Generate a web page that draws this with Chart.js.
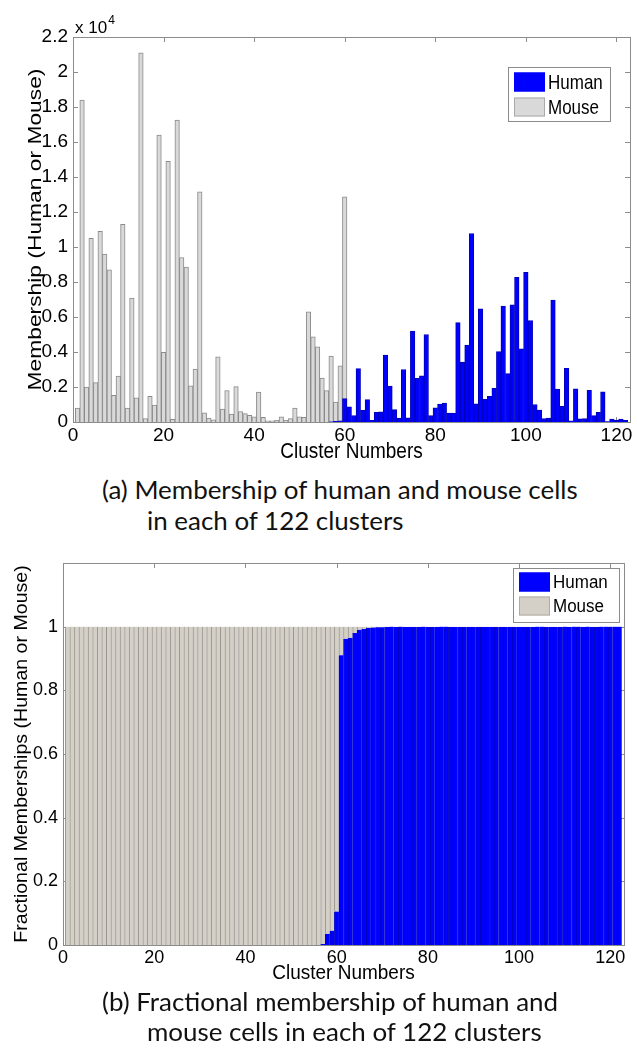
<!DOCTYPE html>
<html><head><meta charset="utf-8">
<script src="https://cdn.jsdelivr.net/npm/chart.js@4"></script>
<style>
html,body{margin:0;padding:0;background:#fff}
body{width:637px;height:1051px;overflow:hidden;position:relative}
canvas{position:absolute;left:0}
#ca{top:0}
#cb{top:540px}
.cap{position:absolute;font-family:Lato,'DejaVu Sans',sans-serif;color:#111;white-space:nowrap;line-height:1}
</style></head><body>
<canvas id="ca" width="637" height="470"></canvas>
<canvas id="cb" width="637" height="450"></canvas>
<div class="cap" id="c1" style="left:102px">(a) Membership of human and mouse cells</div>
<div class="cap" id="c2" style="left:147px">in each of 122 clusters</div>
<div class="cap" id="c3" style="left:102px">(b) Fractional membership of human and</div>
<div class="cap" id="c4" style="left:147px">mouse cells in each of 122 clusters</div>
<script>
// ---------- DATA ----------
const clusters = Array.from({length:122},(_,i)=>i+1);
const xTickValues = [0,20,40,60,80,100,120];

// (a) membership counts per cluster (1..122)
const mouseCounts = [
  800,18400,2000,10500,2250,10900,9600,8700,1520,2620,
  11300,800,7080,1380,21100,200,1460,960,16400,3980,
  14900,150,17250,9400,8850,2060,3020,13150,520,220,
  120,3720,740,1800,450,2020,600,480,380,300,
  1710,260,60,60,100,300,100,190,800,290,
  270,6290,4870,4290,2510,1790,3760,1140,3210,12870,
  85,15,110,14,13,1,2,2,7,4,
  1,0,3,0,5,2,3,5,0,1,
  1,1,0,0,6,3,4,11,1,6,
  1,1,2,4,7,3,7,8,4,9,
  6,1,1,0,0,7,2,1,3,0,
  2,0,0,2,0,1,2,0,0,0,
  0,0];
const humanCounts = [
  0,0,0,0,0,0,0,0,0,0,
  0,0,0,0,0,0,0,0,0,0,
  0,0,0,0,0,0,0,0,0,0,
  0,0,0,0,0,0,0,0,0,0,
  0,0,0,0,0,0,0,0,0,0,
  0,0,0,0,0,0,10,40,60,1340,
  870,370,3050,670,1280,100,550,580,3830,2050,
  710,230,3000,240,5190,2490,2640,5000,360,810,
  1030,1080,510,510,5680,3430,4400,10770,1040,6470,
  1300,1470,1920,4020,6620,2760,6690,8260,4180,8550,
  5800,1000,680,200,230,6970,1880,890,3070,70,
  1900,180,190,1810,360,550,1720,20,170,110,
  160,100];
const yTickValuesA = [0,2000,4000,6000,8000,10000,12000,14000,16000,18000,20000,22000];
const yTickLabelsA = ['0','0.2','0.4','0.6','0.8','1','1.2','1.4','1.6','1.8','2','2.2'];

// (b) fractional membership per cluster (1..122)
const humanFrac = [
  0,0,0,0,0,0,0,0,0,0,
  0,0,0,0,0,0,0,0,0,0,
  0,0,0,0,0,0,0,0,0,0,
  0,0,0,0,0,0,0,0,0,0,
  0,0,0,0,0,0,0,0,0,0,
  0,0,0,0,0,0,0.003,0.035,0.045,0.105,
  0.91,0.962,0.965,0.98,0.99,0.993,0.996,0.997,0.998,0.998,
  0.999,1,0.999,1,0.999,0.999,0.999,0.999,1,0.999,
  0.999,0.999,1,1,0.999,0.999,0.999,0.999,0.999,0.999,
  0.999,0.999,0.999,0.999,0.999,0.999,0.999,0.999,0.999,0.999,
  0.999,0.999,0.999,1,1,0.999,0.999,0.999,0.999,1,
  0.999,1,1,0.999,1,0.999,0.999,1,1,1,
  1,1];
const mouseFrac = [
  1,1,1,1,1,1,1,1,1,1,
  1,1,1,1,1,1,1,1,1,1,
  1,1,1,1,1,1,1,1,1,1,
  1,1,1,1,1,1,1,1,1,1,
  1,1,1,1,1,1,1,1,1,1,
  1,1,1,1,1,1,0.997,0.965,0.955,0.895,
  0.09,0.038,0.035,0.02,0.01,0.007,0.004,0.003,0.002,0.002,
  0.001,0,0.001,0,0.001,0.001,0.001,0.001,0,0.001,
  0.001,0.001,0,0,0.001,0.001,0.001,0.001,0.001,0.001,
  0.001,0.001,0.001,0.001,0.001,0.001,0.001,0.001,0.001,0.001,
  0.001,0.001,0.001,0,0,0.001,0.001,0.001,0.001,0,
  0.001,0,0,0.001,0,0.001,0.001,0,0,0,
  0,0];
const yTickValuesB = [0,0.2,0.4,0.6,0.8,1];
const yTickLabelsB = ['0','0.2','0.4','0.6','0.8','1'];

// ---------- HELPERS ----------
const pts = arr => clusters.map((c,i)=>({x:c,y:arr[i]}));
const FONT = "'Liberation Sans', Arial, Helvetica, sans-serif";

const deco = {
  id:'deco',
  beforeDatasetsDraw(chart, args, o){
    const {ctx, chartArea:a, scales:{x,y}} = chart;
    ctx.save();
    ctx.strokeStyle = '#8c8c8c'; ctx.lineWidth = 1;
    const L=5;
    ctx.beginPath();
    x.ticks.forEach(t=>{const px=Math.round(x.getPixelForValue(t.value))+0.5;
      ctx.moveTo(px,a.bottom); ctx.lineTo(px,a.bottom-L); ctx.moveTo(px,a.top); ctx.lineTo(px,a.top+L);});
    y.ticks.forEach(t=>{const py=Math.round(y.getPixelForValue(t.value))+0.5;
      ctx.moveTo(a.left,py); ctx.lineTo(a.left+L,py); ctx.moveTo(a.right,py); ctx.lineTo(a.right-L,py);});
    ctx.stroke();
    ctx.restore();
  },
  afterDatasetsDraw(chart, args, o){
    const {ctx, chartArea:a} = chart;
    ctx.save();
    ctx.strokeStyle = '#8c8c8c'; ctx.lineWidth = 1;
    ctx.strokeRect(Math.round(a.left)+0.5, Math.round(a.top)+0.5, Math.round(a.right)-Math.round(a.left), Math.round(a.bottom)-Math.round(a.top));
    // legend
    const lg = o.legend;
    ctx.fillStyle='#fff';
    ctx.fillRect(lg.x, lg.y, lg.w, lg.h);
    ctx.strokeStyle='#8c8c8c';
    ctx.strokeRect(lg.x+0.5, lg.y+0.5, lg.w, lg.h);
    ctx.font = lg.font + 'px ' + FONT;
    ctx.textBaseline='middle'; ctx.textAlign='left';
    chart.data.datasets.forEach((ds,i)=>{
      const ry = lg.y + lg.rows[i];
      ctx.fillStyle = ds.backgroundColor;
      ctx.fillRect(lg.x+6, ry-9.5, 31, 19);
      ctx.strokeStyle = ds.legendBorder;
      ctx.strokeRect(lg.x+6.5, ry-9, 30, 18);
      ctx.fillStyle='#000';
      ctx.save();
      ctx.translate(lg.x+40, ry+1);
      ctx.scale(1, o.sy);
      ctx.fillText(ds.label, 0, 0);
      ctx.restore();
    });
    // axis titles
    ctx.fillStyle='#000';
    ctx.font = o.titleFont + 'px ' + FONT;
    ctx.textAlign='center'; ctx.textBaseline='middle';
    ctx.save();
    ctx.translate((a.left+a.right)/2, o.xTitleY);
    ctx.scale(1, o.sy);
    ctx.fillText(o.xTitle, 0, 0);
    ctx.restore();
    ctx.save();
    ctx.translate(o.yTitleX, (a.top+a.bottom)/2);
    ctx.rotate(-Math.PI/2);
    ctx.scale(o.sy, 1);
    ctx.fillText(o.yTitle, 0, 0);
    ctx.restore();
    if (o.expo){
      ctx.font = '17px ' + FONT; ctx.textAlign='left'; ctx.textBaseline='alphabetic';
      ctx.fillText('x 10', a.left+2, a.top-4);
      const w = ctx.measureText('x 10').width;
      ctx.font = '12px ' + FONT;
      ctx.fillText('4', a.left+3+w, a.top-13);
    }
    ctx.restore();
  }
};

function baseScales(yTicks, yLabels, yMax, xTitleH, fs){
  return {
    x:{type:'linear', min:0, max:123, offset:false, stacked:true,
       grid:{display:false, drawTicks:false}, border:{display:false},
       afterBuildTicks:s=>{s.ticks = xTickValues.map(v=>({value:v}));},
       ticks:{padding:2, color:'#000', font:{family:FONT,size:fs}, maxRotation:0, includeBounds:false},
       afterFit:s=>{s.height = xTitleH;}},
    y:{type:'linear', min:0, max:yMax,
       grid:{display:false, drawTicks:false}, border:{display:false},
       afterBuildTicks:s=>{s.ticks = yTicks.map(v=>({value:v}));},
       ticks:{padding:5, color:'#000', font:{family:FONT,size:fs},
              callback:(v)=>{const i=yTicks.findIndex(t=>Math.abs(t-v)<1e-9); return i>=0?yLabels[i]:'';}},
       afterFit:s=>{s.width = 0;}}
  };
}

// ---------- CHART A ----------
const scA = baseScales(yTickValuesA, yTickLabelsA, 22000, 48, 19);
scA.x.stacked = false;
scA.y.afterFit = s=>{s.width = 73;};
new Chart(document.getElementById('ca'), {
  type:'bar',
  data:{datasets:[
    {label:'Human', data:pts(humanCounts), backgroundColor:'#0000ff', borderColor:'#0000b8', borderWidth:1, legendBorder:'#0000ff', grouped:false},
    {label:'Mouse', data:pts(mouseCounts), backgroundColor:'#d9d9d9', borderColor:'#8a8a8a', borderWidth:1, legendBorder:'#aaaaaa', grouped:false}
  ]},
  plugins:[deco],
  options:{
    responsive:false, animation:false, devicePixelRatio:1,
    layout:{padding:{top:37,right:7,left:0,bottom:0}},
    datasets:{bar:{barPercentage:1, categoryPercentage:1}},
    scales:scA,
    plugins:{legend:{display:false}, tooltip:{enabled:false},
      deco:{xTitle:'Cluster Numbers', xTitleY:452, yTitle:'Membership (Human or Mouse)', yTitleX:36, titleFont:19, sy:1.2, expo:true,
            legend:{x:508, y:67, w:102, h:54, rows:[15,40], font:17}}}
  }
});

// ---------- CHART B ----------
const scB = baseScales(yTickValuesB, yTickLabelsB, 1.2, 45, 18);
scB.y.stacked = true;
scB.y.afterFit = s=>{s.width = 63;};
new Chart(document.getElementById('cb'), {
  type:'bar',
  data:{datasets:[
    {label:'Human', data:pts(humanFrac), backgroundColor:'#0000ff', borderColor:'#0000c0', borderWidth:{left:1,top:0,right:0,bottom:0}, borderSkipped:false, legendBorder:'#0000ff'},
    {label:'Mouse', data:pts(mouseFrac), backgroundColor:'#d4d0c8', borderColor:'#9a968f', borderWidth:{left:1,top:0,right:0,bottom:0}, borderSkipped:false, legendBorder:'#b0aca4'}
  ]},
  plugins:[deco],
  options:{
    responsive:false, animation:false, devicePixelRatio:1,
    layout:{padding:{top:23,right:13,left:0,bottom:0}},
    datasets:{bar:{barPercentage:1, categoryPercentage:1}},
    scales:scB,
    plugins:{legend:{display:false}, tooltip:{enabled:false},
      deco:{xTitle:'Cluster Numbers', xTitleY:434, yTitle:'Fractional Memberships (Human or Mouse)', yTitleX:22, titleFont:19, sy:1.03, expo:false,
            legend:{x:513, y:28, w:106, h:54, rows:[14,38], font:17}}}
  }
});

// ---------- CAPTIONS ----------
function fit(el, target){
  let s = 22; el.style.fontSize = s+'px';
  const w = el.getBoundingClientRect().width;
  return s*target/w;
}
const cs = fit(document.getElementById('c1'), 476);
const caps = [['c1',491],['c2',522],['c3',1003],['c4',1033]];
caps.forEach(([id,cy])=>{const el=document.getElementById(id); el.style.fontSize=cs+'px'; el.style.top=(cy-cs*0.55)+'px';});
</script>
</body></html>
